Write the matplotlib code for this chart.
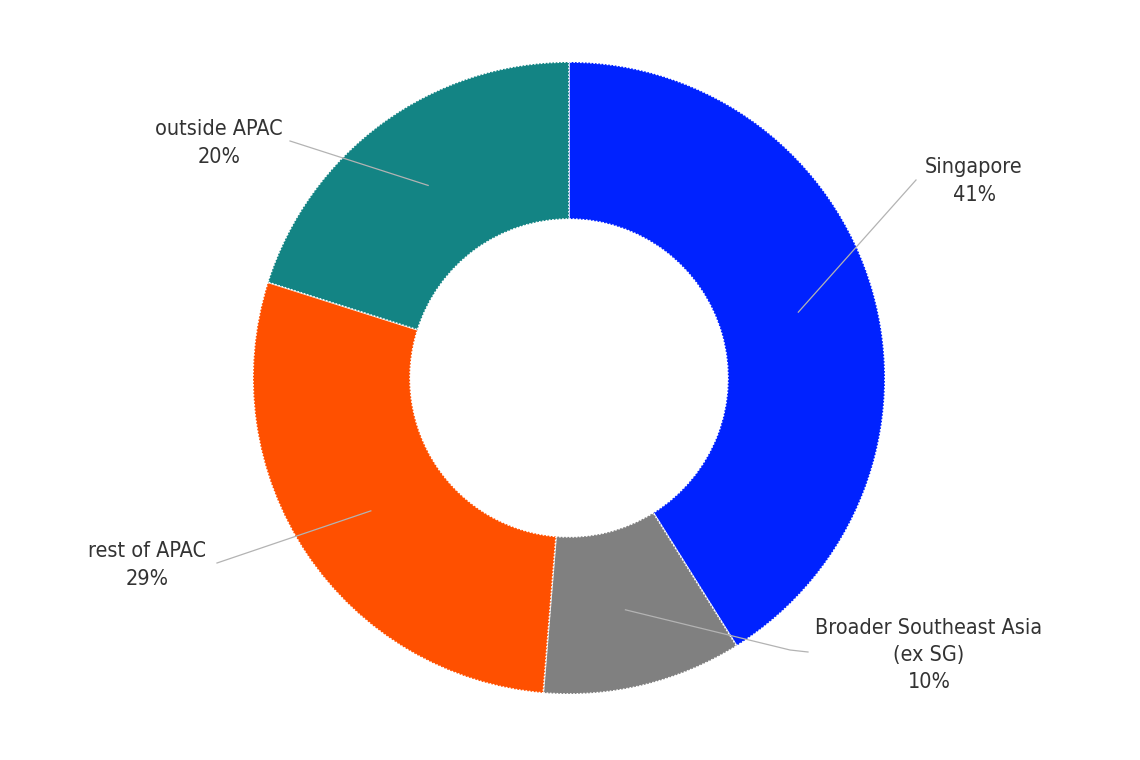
import numpy as np
import matplotlib
matplotlib.use("Agg")
import matplotlib.pyplot as plt

categories = ["Singapore", "Broader Southeast Asia\n(ex SG)", "rest of APAC", "outside APAC"]
values = [41.1, 10.2, 28.6, 20.1]
colors = ["#0022FF", "#808080", "#FF5000", "#138484"]

W, H = 1140, 760
fig = plt.figure(figsize=(W / 100, H / 100), dpi=100)
ax = fig.add_axes([0, 0, 1, 1])

cx, cy, R = 569, H - 378, 316
wedges, _ = ax.pie(values, colors=colors, startangle=90, counterclock=False,
                   center=(cx, cy), radius=R, frame=True,
                   wedgeprops=dict(width=R * 0.497, edgecolor="white", linewidth=1.2,
                                   linestyle=(0, (1, 1))))
ax.set_xlim(0, W)
ax.set_ylim(0, H)
ax.set_aspect("equal")
ax.axis("off")

# label layout (pixel positions, top-origin)
label_pos = [(974, 181), (929, 655), (147, 565), (219, 143)]
elbows = [((916, 180), (916, 180)), ((790, 650), (808, 652)),
          ((217, 563), (217, 563)), ((290, 141), (290, 141))]
total = sum(values)
fontkw = dict(family="DejaVu Sans", fontstretch="condensed", fontsize=15.5, color="#333333")
for w, v, name, (tx, ty), (e1, e2) in zip(wedges, values, categories, label_pos, elbows):
    ang = np.deg2rad((w.theta1 + w.theta2) / 2)
    ax_, ay_ = cx + 0.755 * R * np.cos(ang), cy + 0.755 * R * np.sin(ang)
    xs = [ax_, e1[0], e2[0]]
    ys = [ay_, H - e1[1], H - e2[1]]
    ax.plot(xs, ys, color="#b3b3b3", lw=0.9, zorder=5)
    ax.text(tx, H - ty, f"{name}\n{round(v / total * 100)}%", ha="center", va="center",
            linespacing=1.46, **fontkw)

fig.savefig("out.png", dpi=100, facecolor="white")
